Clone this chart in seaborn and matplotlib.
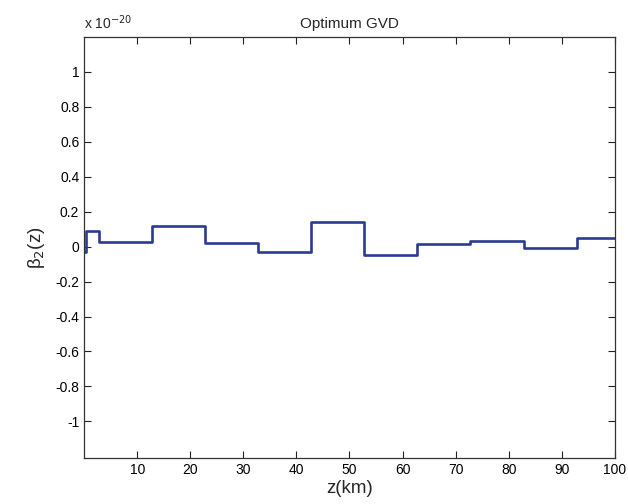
import matplotlib
matplotlib.use("Agg")
import matplotlib.pyplot as plt
import numpy as np
import pandas as pd
import seaborn as sns
from matplotlib.ticker import FormatStrFormatter

# step boundaries along the link (km) and GVD value on each step (x 1e-20)
z_edges = [0, 0.3, 2.8, 12.8, 22.8, 32.8, 42.8, 52.8, 62.8, 72.8, 82.8, 92.8, 100]
beta2 = [-0.03, 0.088, 0.024, 0.116, 0.019, -0.030, 0.143, -0.046, 0.015, 0.033, -0.007, 0.048]

x_ticks = [10, 20, 30, 40, 50, 60, 70, 80, 90, 100]
y_ticks = [-1, -0.8, -0.6, -0.4, -0.2, 0, 0.2, 0.4, 0.6, 0.8, 1]

sns.set_style("ticks")
plt.rcParams['font.family'] = ['Liberation Sans', 'DejaVu Sans']
plt.rcParams['axes.unicode_minus'] = False

df = pd.DataFrame({'z': z_edges, 'beta2': beta2 + [beta2[-1]]})

fig = plt.figure(figsize=(6.28, 5.04), dpi=100)
ax = fig.add_axes([0.134, 0.091, 0.845, 0.836])
sns.lineplot(data=df, x='z', y='beta2', ax=ax, drawstyle='steps-post',
             color='#2b3a92', linewidth=1.9, sort=False)

ax.set_xlim(0, 100)
ax.set_ylim(-1.21, 1.2)
ax.set_xticks(x_ticks)
ax.set_yticks(y_ticks)
ax.yaxis.set_major_formatter(FormatStrFormatter('%g'))
ax.tick_params(direction='in', length=5, width=0.8, labelsize=10,
               top=True, right=True, colors='#222222', labelcolor='black')
for s in ax.spines.values():
    s.set_linewidth(0.9)
    s.set_color('#333333')

ax.set_xlabel('z(km)', fontsize=13.5, labelpad=2)
ax.set_ylabel(r'β$_2$(z)', fontsize=13.5, labelpad=6)
ax.set_title('Optimum GVD', fontsize=11, pad=6)
ax.text(0.0, 1.012, r'x 10$^{-20}$', transform=ax.transAxes, fontsize=10,
        ha='left', va='bottom')

fig.savefig('out.png', dpi=100)
